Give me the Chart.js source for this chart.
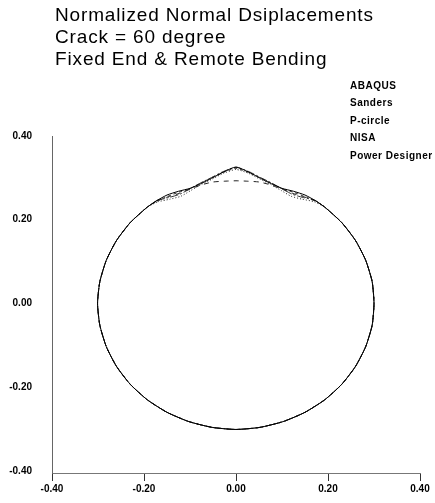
<!DOCTYPE html>
<html><head><meta charset="utf-8">
<script src="https://cdn.jsdelivr.net/npm/chart.js@4.4.1/dist/chart.umd.min.js"></script>
<style>html,body{margin:0;padding:0;background:#fff;}canvas{display:block}</style>
</head><body>
<canvas id="c" width="435" height="503"></canvas>
<script>
const titleLines = ["Normalized Normal Dsiplacements", "Crack = 60 degree", "Fixed End & Remote Bending"];
const seriesNames = ["ABAQUS", "Sanders", "P-circle", "NISA", "Power Designer"];
const xTickVals = [-0.4, -0.2, 0, 0.2, 0.4];
const yTickVals = [-0.4, -0.2, 0, 0.2, 0.4];

// shared lower part of the loop (right side of crack zone, round the bottom, to left side)
const arcX = [0.193, 0.230, 0.260, 0.282, 0.296, 0.300, 0.296, 0.282, 0.260, 0.230, 0.193, 0.150, 0.103, 0.052, 0.000,
  -0.052, -0.103, -0.150, -0.193, -0.230, -0.260, -0.282, -0.296, -0.301, -0.296, -0.282, -0.260, -0.230, -0.193];
const arcY = [0.230, 0.193, 0.150, 0.103, 0.052, 0.000, -0.052, -0.103, -0.150, -0.193, -0.230, -0.260, -0.282, -0.296, -0.301,
  -0.296, -0.282, -0.260, -0.230, -0.193, -0.150, -0.103, -0.052, 0.000, 0.052, 0.103, 0.150, 0.193, 0.230];

// crack-zone (top) segments, left to right
const abaqusX = [-0.172, -0.150, -0.125, -0.100, -0.077, -0.053, -0.027, 0, 0.027, 0.053, 0.077, 0.100, 0.125, 0.150, 0.172];
const abaqusY = [0.246, 0.259, 0.268, 0.275, 0.286, 0.299, 0.314, 0.326, 0.314, 0.299, 0.286, 0.275, 0.268, 0.259, 0.246];
const sandersX = [-0.172, -0.147, -0.123, -0.100, -0.076, -0.051, -0.026, 0, 0.026, 0.051, 0.076, 0.100, 0.123, 0.147, 0.172];
const sandersY = [0.245, 0.255, 0.263, 0.273, 0.283, 0.290, 0.292, 0.293, 0.292, 0.290, 0.283, 0.273, 0.263, 0.255, 0.245];
const pcircleX = [-0.170, -0.144, -0.120, -0.098, -0.076, -0.052, -0.027, 0, 0.027, 0.052, 0.076, 0.098, 0.120, 0.144, 0.170];
const pcircleY = [0.243, 0.249, 0.256, 0.270, 0.284, 0.297, 0.311, 0.320, 0.311, 0.297, 0.284, 0.270, 0.256, 0.249, 0.243];
const nisaX = [-0.172, -0.148, -0.124, -0.100, -0.077, -0.053, -0.027, 0, 0.027, 0.053, 0.077, 0.100, 0.124, 0.148, 0.172];
const nisaY = [0.245, 0.256, 0.266, 0.274, 0.287, 0.300, 0.313, 0.323, 0.313, 0.300, 0.287, 0.274, 0.266, 0.256, 0.245];
const powerX = [-0.172, -0.146, -0.122, -0.100, -0.077, -0.053, -0.028, 0, 0.028, 0.053, 0.077, 0.100, 0.122, 0.146, 0.172];
const powerY = [0.246, 0.253, 0.261, 0.274, 0.288, 0.301, 0.315, 0.325, 0.315, 0.301, 0.288, 0.274, 0.261, 0.253, 0.246];

function loop(tx, ty) {
  const xs = tx.concat(arcX, [tx[0]]);
  const ys = ty.concat(arcY, [ty[0]]);
  return xs.map((x, i) => ({x: x, y: ys[i]}));
}

const styles = [
  {dash: [], color: '#000'},
  {dash: [5, 5], color: '#222'},
  {dash: [1, 2], color: '#222'},
  {dash: [3, 3], color: '#333'},
  {dash: [8, 2, 2, 2], color: '#333'}
];
const series = [[abaqusX, abaqusY], [sandersX, sandersY], [pcircleX, pcircleY], [nisaX, nisaY], [powerX, powerY]];

const datasets = series.map((s, i) => ({
  label: seriesNames[i],
  data: loop(s[0], s[1]),
  showLine: true,
  borderColor: styles[i].color,
  borderDash: styles[i].dash,
  borderWidth: 1,
  pointRadius: 0,
  tension: 0.2,
  fill: false
}));

const textPlugin = {
  id: 'texts',
  afterDraw(chart) {
    const ctx = chart.ctx;
    ctx.save();
    ctx.fillStyle = '#000';
    ctx.textAlign = 'left';
    ctx.textBaseline = 'alphabetic';
    ctx.font = '19px "Liberation Sans", Arial, sans-serif';
    try { ctx.letterSpacing = '0.85px'; } catch (e) {}
    titleLines.forEach((t, i) => ctx.fillText(t, 55, 21 + i * 22));
    ctx.font = 'bold 10px "Liberation Sans", Arial, sans-serif';
    try { ctx.letterSpacing = '0.5px'; } catch (e) {}
    ctx.textBaseline = 'middle';
    seriesNames.forEach((t, i) => ctx.fillText(t, 350, 86 + i * 17.5));
    ctx.restore();
  }
};

new Chart(document.getElementById('c'), {
  type: 'scatter',
  data: {datasets: datasets},
  options: {
    responsive: false,
    animation: false,
    layout: {padding: {top: 136, right: 15, bottom: 0, left: 0}},
    plugins: {legend: {display: false}, title: {display: false}, tooltip: {enabled: false}},
    scales: {
      x: {
        type: 'linear', min: -0.4, max: 0.4,
        afterBuildTicks: (s) => { s.ticks = xTickVals.map(v => ({value: v})); },
        afterFit: (s) => { s.height = 30; },
        border: {display: true, color: '#777', width: 1, dash: [10, 7]},
        grid: {drawOnChartArea: false, drawTicks: true, tickLength: 8, color: '#333', tickColor: '#333'},
        ticks: {padding: 2, color: '#000', font: {family: '"Liberation Sans", Arial, sans-serif', size: 10, weight: 'bold'},
          callback: (v) => Number(v).toFixed(2), maxRotation: 0, autoSkip: false}
      },
      y: {
        type: 'linear', min: -0.405, max: 0.4,
        afterBuildTicks: (s) => { s.ticks = yTickVals.map(v => ({value: v})); },
        afterFit: (s) => { s.width = 52; },
        border: {display: true, color: '#666', width: 1},
        grid: {drawOnChartArea: false, drawTicks: false},
        ticks: {padding: 20, color: '#000', font: {family: '"Liberation Sans", Arial, sans-serif', size: 10, weight: 'bold'},
          callback: (v) => Number(v).toFixed(2), autoSkip: false}
      }
    }
  },
  plugins: [textPlugin]
});
</script>
</body></html>
